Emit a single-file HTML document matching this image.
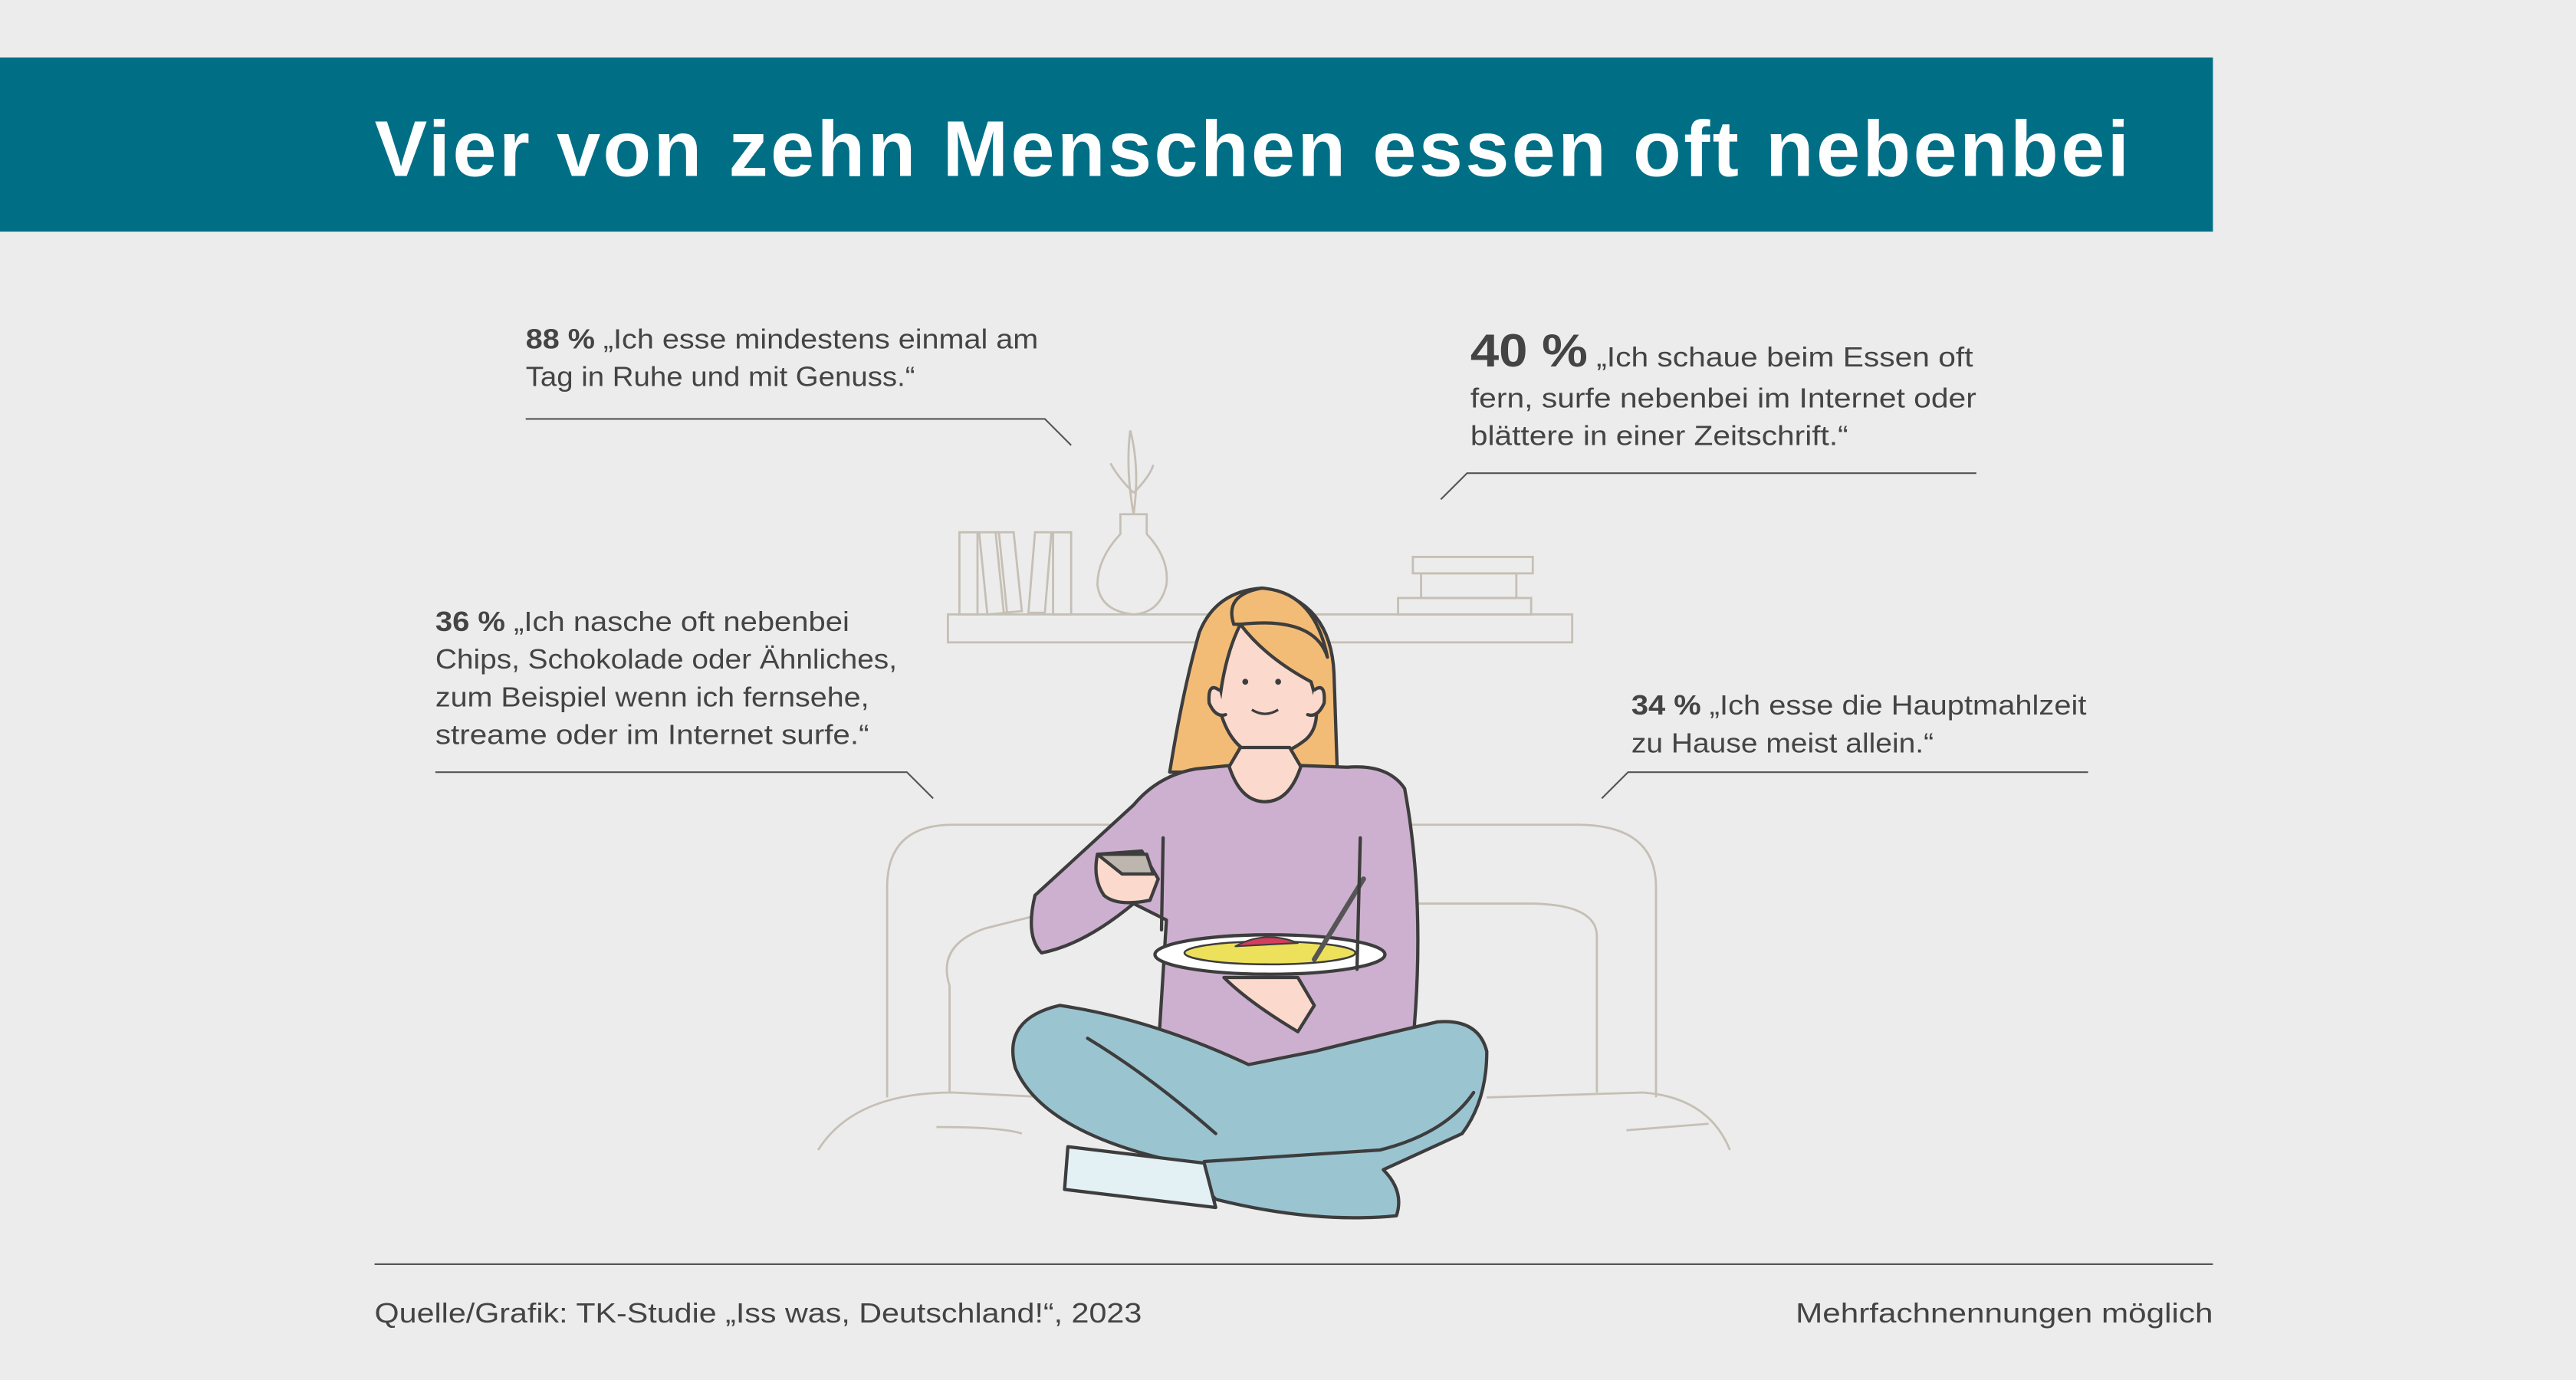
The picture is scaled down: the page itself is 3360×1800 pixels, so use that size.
<!DOCTYPE html>
<html><head><meta charset="utf-8"><style>
html,body{margin:0;padding:0;background:#ececec;}
svg{display:block;}
text{font-family:"Liberation Sans","DejaVu Sans",sans-serif;fill:#444;}
</style></head><body>
<svg width="3360" height="1800" viewBox="0 0 1568 840" xmlns="http://www.w3.org/2000/svg">
<rect width="1568" height="840" fill="#ececec"/>
<rect x="0" y="35" width="1347" height="106" fill="#006f86"/>
<text x="228" y="107" font-size="48" font-weight="bold" style="fill:#fff" textLength="1068">Vier von zehn Menschen essen oft nebenbei</text>

<g font-size="17" lengthAdjust="spacingAndGlyphs">
<text x="320" y="212" textLength="312" lengthAdjust="spacingAndGlyphs"><tspan font-weight="bold">88 %</tspan> „Ich esse mindestens einmal am</text>
<text x="320" y="235" textLength="237" lengthAdjust="spacingAndGlyphs">Tag in Ruhe und mit Genuss.“</text>
<text x="895" y="223" textLength="306" lengthAdjust="spacingAndGlyphs"><tspan font-weight="bold" font-size="28">40 %</tspan> „Ich schaue beim Essen oft</text>
<text x="895" y="248" textLength="308" lengthAdjust="spacingAndGlyphs">fern, surfe nebenbei im Internet oder</text>
<text x="895" y="271" textLength="230" lengthAdjust="spacingAndGlyphs">blättere in einer Zeitschrift.“</text>
<text x="265" y="384" textLength="252" lengthAdjust="spacingAndGlyphs"><tspan font-weight="bold">36 %</tspan> „Ich nasche oft nebenbei</text>
<text x="265" y="407" textLength="281" lengthAdjust="spacingAndGlyphs">Chips, Schokolade oder Ähnliches,</text>
<text x="265" y="430" textLength="264" lengthAdjust="spacingAndGlyphs">zum Beispiel wenn ich fernsehe,</text>
<text x="265" y="453" textLength="264" lengthAdjust="spacingAndGlyphs">streame oder im Internet surfe.“</text>
<text x="993" y="435" textLength="277" lengthAdjust="spacingAndGlyphs"><tspan font-weight="bold">34 %</tspan> „Ich esse die Hauptmahlzeit</text>
<text x="993" y="458" textLength="184" lengthAdjust="spacingAndGlyphs">zu Hause meist allein.“</text>
</g>
<g stroke="#555" fill="none" stroke-width="1">
<path d="M320 255H636L652 271"/>
<path d="M877 304L893 288H1203"/>
<path d="M265 470H552L568 486"/>
<path d="M975 486L991 470H1271"/>
</g>
<g stroke="#c5bfb5" fill="none" stroke-width="1.3">
<rect x="577" y="374" width="380" height="17"/>
<rect x="584" y="324" width="11" height="50"/>
<path d="M596 324L608 324L613 373L601 374Z"/>
<path d="M606 324L617 324L622 372L611 373Z"/>
<path d="M630 324L640 324L636 373L626 373Z"/>
<rect x="641" y="324" width="11" height="50"/>
<path d="M682 313H698V325Q712 340 710 356Q706 373 690 374Q670 372 668 356Q668 340 682 325Z"/>
<path d="M690 313Q685 285 688 262Q694 285 690 313M690 300Q680 290 676 282M690 300Q700 290 702 283"/>
<rect x="860" y="339" width="73" height="10"/>
<rect x="865" y="349" width="58" height="15"/>
<rect x="851" y="364" width="81" height="10"/>
<path d="M540 668V540Q540 502 580 502H960Q1008 502 1008 540V668"/>
<path d="M578 665V600Q570 575 600 565L660 550M852 550L930 550Q972 550 972 570V665"/>
<path d="M498 700Q520 665 580 665L640 668M905 668L1000 665Q1040 668 1053 700"/>
<path d="M570 686Q610 686 622 690M990 688L1040 684"/>
</g>
<g stroke="#3d3d3d" stroke-width="2" stroke-linejoin="round" stroke-linecap="round">
<path d="M712 470Q720 420 730 385Q740 360 768 358Q810 365 812 410L814 470Z" fill="#f3bc76"/>
<path d="M755 380Q770 400 798 415Q806 440 795 450Q780 462 765 460Q748 455 742 430Q745 400 755 380Z" fill="#fbd9cc"/>
<path d="M742 420Q735 415 736 428Q740 437 746 435M800 420Q807 415 806 428Q802 437 796 435" fill="#fbd9cc"/>
<path d="M755 455L748 467Q755 488 770 488Q785 488 792 467L785 455Z" fill="#fbd9cc"/>
<path d="M751 380Q745 362 768 358Q800 360 808 400Q800 375 755 380Z" fill="#f3bc76"/>
<path d="M748 466L728 468Q705 472 690 490L630 545Q624 570 634 580Q660 575 690 550L710 560L705 640L760 650L860 635Q868 550 855 480Q845 465 820 467L792 466Q785 488 770 488Q755 488 748 466Z" fill="#cdb0cf"/>
<path d="M668 520L695 518L705 535L700 548Q680 552 672 545Q665 535 668 520Z" fill="#fbd9cc"/>
<path d="M668 520L698 520L702 532L683 532Z" fill="#bdb6ae"/>
<path d="M745 595Q760 610 790 628L800 612L790 595Z" fill="#fbd9cc"/>
<path d="M645 612Q610 620 618 650Q635 690 720 708L740 730Q800 745 850 740Q855 725 842 712L890 690Q905 670 905 640Q900 620 875 622Q840 630 800 640L760 648Q700 620 645 612Z" fill="#9bc4d1"/>
<path d="M650 698L648 724L740 735L733 708Z" fill="#e3f0f4"/>
<path d="M662 632Q700 655 740 690M733 707L840 700Q880 690 897 665" fill="none"/>
<ellipse cx="773" cy="581" rx="70" ry="12" fill="#fff"/>
<ellipse cx="773" cy="580" rx="52" ry="7" fill="#ede05a" stroke-width="1.2"/>
<path d="M752 576Q770 566 790 574Z" fill="#d43d5c" stroke-width="1"/>
<path d="M800 584L830 535" stroke="#555" stroke-width="3" fill="none"/>
<path d="M708 510L707 566M828 510L826 590" fill="none"/>
</g>
<g fill="#3d3d3d"><circle cx="758" cy="415" r="1.8"/><circle cx="778" cy="415" r="1.8"/></g>
<path d="M762 432Q770 437 778 432" stroke="#3d3d3d" stroke-width="1.5" fill="none"/>

<line x1="228" y1="769.5" x2="1347" y2="769.5" stroke="#555" stroke-width="1"/>
<text x="228" y="805" font-size="17" textLength="467" lengthAdjust="spacingAndGlyphs">Quelle/Grafik: TK-Studie „Iss was, Deutschland!“, 2023</text>
<text x="1093" y="805" font-size="17" textLength="254" lengthAdjust="spacingAndGlyphs">Mehrfachnennungen möglich</text>
</svg>
</body></html>
